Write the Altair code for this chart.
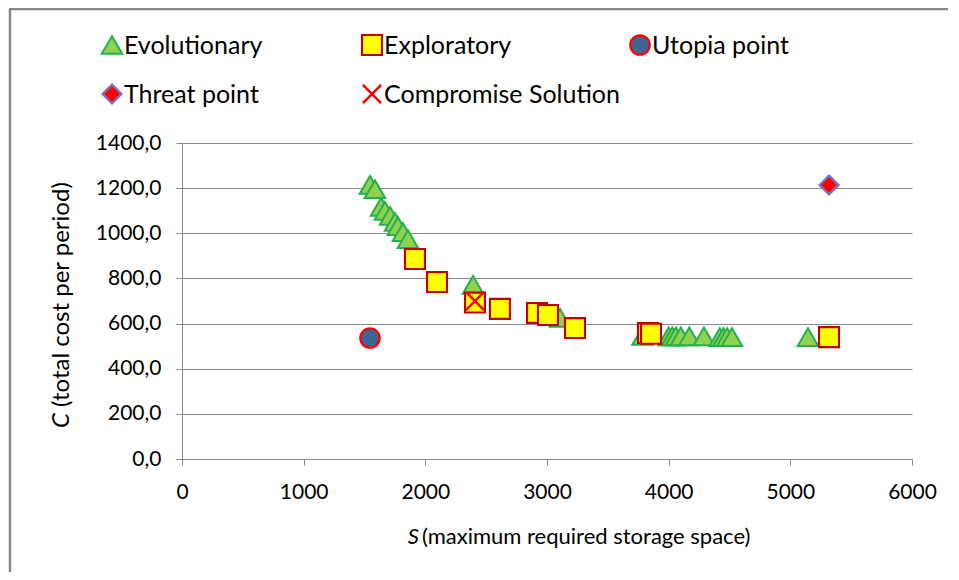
import altair as alt
import pandas as pd

evo_S = [1545, 1586, 1636, 1668, 1710, 1751, 1775, 1816, 1857, 2392, 3107,
         3785, 4000, 4030, 4060, 4100, 4170, 4290, 4420, 4450, 4480, 4520, 5145]
evo_C = [1214, 1196, 1117, 1099, 1077, 1050, 1032, 1005, 974, 771, 625,
         545, 543, 543, 543, 543, 543, 543, 540, 540, 540, 540, 540]
exp_S = [1915, 2096, 2408, 2613, 2918, 3008, 3230, 3830, 3855, 5318]
exp_C = [886, 784, 693, 665, 647, 638, 580, 558, 555, 540]
utopia_S = [1545]
utopia_C = [536]
threat_S = [5318]
threat_C = [1214]
comp_S = [2408]
comp_C = [700]

series_names = ["Evolutionary", "Exploratory", "Utopia point", "Threat point", "Compromise Solution"]
fills = ["#92d050", "#ffff00", "#3f6597", "#ff0000", "transparent"]
strokes = ["#22b14c", "#c00000", "#ff0000", "#7f6fb8", "#ff0000"]
shapes = ["triangle-up", "square", "circle", "diamond", "M-1,-1L1,1M1,-1L-1,1"]
sizes = [420, 330, 280, 300, 160]
legend_sizes = [330, 250, 200, 190, 110]
stroke_widths = [2, 2.5, 2.5, 2, 3.5]

# legend layout (grid slots, pixel offsets from the plot origin)
legend_col_x = [-70, 190, 458, -70, 190]
legend_row_y = [-98, -98, -98, -49, -49]

rows = []
for name, S, C in [("Evolutionary", evo_S, evo_C), ("Exploratory", exp_S, exp_C),
                   ("Utopia point", utopia_S, utopia_C), ("Threat point", threat_S, threat_C),
                   ("Compromise Solution", comp_S, comp_C)]:
    for s, c in zip(S, C):
        rows.append({"series": name, "S": s, "C": c})
df = pd.DataFrame(rows)

leg_df = pd.DataFrame({
    "series": series_names,
    "lx": legend_col_x,
    "ly": legend_row_y,
    "tx": [v + 12 for v in legend_col_x],
})

FONT = "Lato"
W, H = 730, 316
dom = series_names

fill_enc = alt.Fill("series:N", scale=alt.Scale(domain=dom, range=fills), legend=None)
stroke_enc = alt.Stroke("series:N", scale=alt.Scale(domain=dom, range=strokes), legend=None)
shape_enc = alt.Shape("series:N", scale=alt.Scale(domain=dom, range=shapes), legend=None)
sw_enc = alt.StrokeWidth("series:N", scale=alt.Scale(domain=dom, range=stroke_widths), legend=None)

points = alt.Chart(df).mark_point(filled=True, opacity=1).encode(
    x=alt.X("S:Q", scale=alt.Scale(domain=[0, 6000], nice=False),
            axis=alt.Axis(values=[0, 1000, 2000, 3000, 4000, 5000, 6000], format="d",
                          title=None, grid=False, tickSize=6, labelPadding=16,
                          labelFontSize=21, labelFont=FONT, labelColor="#000000",
                          domainColor="#888888", tickColor="#888888", labelFlush=False)),
    y=alt.Y("C:Q", scale=alt.Scale(domain=[0, 1400], nice=False),
            axis=alt.Axis(values=[0, 200, 400, 600, 800, 1000, 1200, 1400],
                          labelExpr="replace(format(datum.value, '.1f'), '.', ',')",
                          title=None, grid=True, gridColor="#888888", gridWidth=1.2,
                          tickSize=6, labelPadding=15, labelFontSize=21, labelFont=FONT,
                          labelColor="#000000", domainColor="#888888", tickColor="#888888")),
    fill=fill_enc, stroke=stroke_enc, shape=shape_enc, strokeWidth=sw_enc,
    size=alt.Size("series:N", scale=alt.Scale(domain=dom, range=sizes), legend=None),
)

leg_sym = alt.Chart(leg_df).mark_point(filled=True, opacity=1).encode(
    x=alt.X("lx:Q", scale=None), y=alt.Y("ly:Q", scale=None),
    fill=fill_enc, stroke=stroke_enc, shape=shape_enc, strokeWidth=sw_enc,
    size=alt.Size("series:N", scale=alt.Scale(domain=dom, range=legend_sizes), legend=None),
)
leg_txt = alt.Chart(leg_df).mark_text(
    align="left", baseline="middle", font=FONT, fontSize=25, color="#000000", dy=1
).encode(x=alt.X("tx:Q", scale=None), y=alt.Y("ly:Q", scale=None), text="series:N")

def txt(t, size, **kw):
    return alt.Chart(pd.DataFrame({"t": [t]})).mark_text(
        text=t, font=FONT, fontSize=size, color="#000000", **kw)

xt1 = txt("S", 22, align="right", baseline="middle", fontStyle="italic").encode(
    x=alt.value(237), y=alt.value(394))
xt2 = txt("(maximum required storage space)", 22, align="left", baseline="middle").encode(
    x=alt.value(240), y=alt.value(394))
yt1 = txt("C", 24, align="left", baseline="middle", angle=270, fontStyle="italic").encode(
    x=alt.value(-120), y=alt.value(285))
yt2 = txt("(total cost per period)", 24, align="left", baseline="middle", angle=270).encode(
    x=alt.value(-120), y=alt.value(264))

frame_v = alt.Chart(pd.DataFrame({"a": [0]})).mark_rule(color="#888888", strokeWidth=2.5).encode(
    x=alt.value(-172), x2=alt.value(-172), y=alt.value(-134), y2=alt.value(440))
frame_h = alt.Chart(pd.DataFrame({"a": [0]})).mark_rule(color="#888888", strokeWidth=2.5).encode(
    x=alt.value(-173), x2=alt.value(766), y=alt.value(-134), y2=alt.value(-134))

chart = alt.layer(frame_v, frame_h, points, leg_sym, leg_txt, xt1, xt2, yt1, yt2).properties(
    width=W, height=H,
    autosize=alt.AutoSizeParams(type="none"),
    padding={"left": 174, "top": 135, "right": 39, "bottom": 113},
    background="#ffffff",
).configure_view(stroke=None)

chart.save("out.html", embed_options={"renderer": "svg", "actions": False})
